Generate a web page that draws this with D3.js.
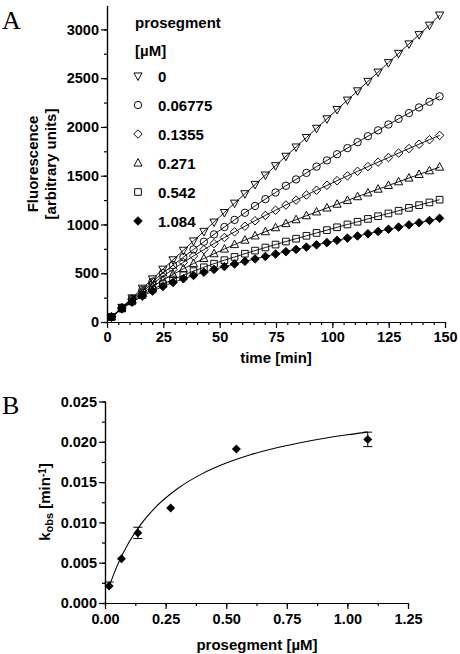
<!DOCTYPE html>
<html><head><meta charset="utf-8">
<script src="https://cdnjs.cloudflare.com/ajax/libs/d3/7.8.5/d3.min.js"></script>
<style>
body{margin:0;background:#fff;}
svg text{font-family:"Liberation Sans",Arial,Helvetica,sans-serif;font-weight:bold;fill:#000;}
</style></head>
<body><svg id="c" width="460" height="654"></svg>
<script>
// ---------- Panel A data ----------
const times = [2.0,6.6,11.1,15.7,20.2,24.8,29.3,33.9,38.4,43.0,47.5,52.1,56.6,61.2,65.7,70.3,74.8,79.4,83.9,88.5,93.0,97.6,102.1,106.7,111.2,115.8,120.3,124.9,129.4,134.0,138.5,143.1,147.6];
const concLabels = ["0","0.06775","0.1355","0.271","0.542","1.084"];
const markerTypes = ["triDown","circle","diamond","triUp","square","diamondFilled"];
const s0 = [52,150,247,346,442,541,637,735,831,929,1024,1122,1218,1315,1410,1507,1602,1699,1794,1891,1986,2083,2178,2275,2370,2467,2562,2659,2754,2851,2946,3043,3147];
const s1 = [52,147,238,328,414,501,583,665,744,823,898,974,1047,1120,1190,1260,1328,1397,1462,1529,1593,1657,1720,1783,1844,1905,1965,2025,2083,2142,2200,2258,2314];
const s2 = [52,145,231,314,392,469,540,611,677,742,804,866,924,982,1038,1093,1146,1199,1250,1302,1351,1401,1449,1498,1545,1593,1639,1686,1732,1778,1823,1869,1913];
const s3 = [52,141,221,296,364,429,488,546,599,651,700,748,794,839,883,926,967,1009,1049,1090,1129,1169,1208,1247,1285,1324,1362,1400,1438,1476,1513,1551,1588];
const s4 = [51,137,210,276,334,388,436,481,522,561,598,634,667,700,732,764,794,825,854,884,913,942,971,1000,1028,1057,1085,1113,1141,1170,1198,1226,1254];
const s5 = [51,134,203,264,317,364,405,443,477,510,539,568,595,622,647,672,697,721,744,768,791,814,837,860,882,905,928,951,973,996,1018,1041,1063];
const seriesA = [s0,s1,s2,s3,s4,s5];
const xTicksA = [0,25,50,75,100,125,150];
const yTicksA = [0,500,1000,1500,2000,2500,3000];

// ---------- Panel B data ----------
const concB = [0.017,0.068,0.1355,0.271,0.542,1.084];
const kobs = [0.0021,0.0055,0.0087,0.0118,0.0191,0.0203];
const errUp = [0.0005,0,0.0007,0,0,0.0009];
const errDown = [0,0,0.0007,0,0,0.0009];
const fitX = [0.017,0.05,0.1,0.15,0.2,0.3,0.4,0.5,0.6,0.7,0.8,0.9,1.0,1.084];
const fitY = [0.00206,0.00461,0.00759,0.00985,0.01162,0.01421,0.01602,0.01736,0.01839,0.0192,0.01986,0.02041,0.02087,0.0212];
const xTicksB = [0,0.25,0.5,0.75,1.0,1.25];
const yTicksB = [0,0.005,0.01,0.015,0.02,0.025];

const svg = d3.select("#c");

function markerPath(type, r){
  const p = d3.path();
  if(type==="circle"){ p.arc(0,0,r,0,2*Math.PI); p.closePath(); }
  else if(type==="square"){ p.rect(-r*0.9,-r*0.9,r*1.8,r*1.8); }
  else if(type==="diamond"||type==="diamondFilled"){ const d=r*1.15; p.moveTo(0,-d);p.lineTo(d,0);p.lineTo(0,d);p.lineTo(-d,0);p.closePath(); }
  else if(type==="triUp"){ const h=r*1.1; p.moveTo(0,-h*1.1);p.lineTo(h,h*0.75);p.lineTo(-h,h*0.75);p.closePath(); }
  else if(type==="triDown"){ const h=r*1.1; p.moveTo(0,h*1.1);p.lineTo(h,-h*0.75);p.lineTo(-h,-h*0.75);p.closePath(); }
  return p.toString();
}
function styleAxis(a, fs){
  a.selectAll("text").style("font-size",fs).style("font-family","Liberation Sans, Arial").style("font-weight","bold");
  a.selectAll("line,path").attr("stroke","#000").attr("stroke-width",1.2);
}

// ================= Panel A =================
const xA = d3.scaleLinear().domain([0,150]).range([107,445]);
const yA = d3.scaleLinear().domain([0,3240]).range([322,6]);

const gA = svg.append("g");
const axXA = gA.append("g").attr("transform","translate(0,322)")
  .call(d3.axisBottom(xA).tickValues(d3.range(0,151,5)).tickSize(3).tickFormat(""));
const axXA2 = gA.append("g").attr("transform","translate(0,322)")
  .call(d3.axisBottom(xA).tickValues(xTicksA).tickSize(6).tickPadding(4).tickFormat(d3.format("d")));
const axYA = gA.append("g").attr("transform","translate(107,0)")
  .call(d3.axisLeft(yA).tickValues(d3.range(0,3240,250)).tickSize(3).tickFormat(""));
const axYA2 = gA.append("g").attr("transform","translate(107,0)")
  .call(d3.axisLeft(yA).tickValues(yTicksA).tickSize(6).tickPadding(2).tickFormat(d3.format("d")));
[axXA,axXA2,axYA,axYA2].forEach(a=>styleAxis(a,"14.5px"));
axYA.select(".domain").attr("d","M0.5,"+yA.range()[1]+"V322");
axYA2.select(".domain").attr("d","M0.5,"+yA.range()[1]+"V322");
axXA.select(".domain").attr("d","M107,0.5H445");
axXA2.select(".domain").attr("d","M107,0.5H445");

const lineA = d3.line().x((d,i)=>xA(times[i])).y(d=>yA(d));
seriesA.forEach((s,k)=>{
  gA.append("path").attr("d",lineA(s)).attr("fill","none").attr("stroke","#000").attr("stroke-width",0.9);
  gA.selectAll(null).data(s).enter().append("path")
    .attr("transform",(d,i)=>`translate(${xA(times[i])},${yA(d)})`)
    .attr("d",markerPath(markerTypes[k],3.7))
    .attr("fill",markerTypes[k]==="diamondFilled"?"#000":"none")
    .attr("stroke","#000").attr("stroke-width",0.95);
});

// legend A
gA.append("text").attr("x",135).attr("y",28).style("font-size","15px").text("prosegment");
gA.append("text").attr("x",135).attr("y",56).style("font-size","15px").text("[µM]");
concLabels.forEach((c,k)=>{
  const y = 76 + k*29;
  gA.append("path").attr("transform",`translate(138,${y})`).attr("d",markerPath(markerTypes[k],3.7))
    .attr("fill",markerTypes[k]==="diamondFilled"?"#000":"none").attr("stroke","#000").attr("stroke-width",0.95);
  gA.append("text").attr("x",158).attr("y",y+5.5).style("font-size","15px").text(c);
});

gA.append("text").attr("transform","translate(38,164) rotate(-90)").attr("text-anchor","middle").style("font-size","15px").text("Fluorescence");
gA.append("text").attr("transform","translate(56,164) rotate(-90)").attr("text-anchor","middle").style("font-size","15px").text("[arbitrary units]");
gA.append("text").attr("x",276).attr("y",363).attr("text-anchor","middle").style("font-size","15px").text("time [min]");
gA.append("text").attr("x",2).attr("y",29).style("font-family","Liberation Serif, Times New Roman, serif").style("font-weight","normal").style("font-size","26px").text("A");

// ================= Panel B =================
const xB = d3.scaleLinear().domain([0,1.25]).range([105,408]);
const yB = d3.scaleLinear().domain([0,0.025]).range([603,401.5]);
const gB = svg.append("g");
const axXB = gB.append("g").attr("transform","translate(0,603)")
  .call(d3.axisBottom(xB).tickValues(d3.range(0,1.26,0.125)).tickSize(3).tickFormat(""));
const axXB2 = gB.append("g").attr("transform","translate(0,603)")
  .call(d3.axisBottom(xB).tickValues(xTicksB).tickSize(6).tickPadding(5).tickFormat(d3.format(".2f")));
const axYB = gB.append("g").attr("transform","translate(105,0)")
  .call(d3.axisLeft(yB).tickValues(d3.range(0,0.0251,0.0025)).tickSize(3).tickFormat(""));
const axYB2 = gB.append("g").attr("transform","translate(105,0)")
  .call(d3.axisLeft(yB).tickValues(yTicksB).tickSize(6).tickPadding(2).tickFormat(d3.format(".3f")));
[axXB,axXB2,axYB,axYB2].forEach(a=>styleAxis(a,"14.5px"));
axYB.select(".domain").attr("d","M0.5,401.5V603");
axYB2.select(".domain").attr("d","M0.5,401.5V603");
axXB.select(".domain").attr("d","M105,0.5H408");
axXB2.select(".domain").attr("d","M105,0.5H408");

const lineB = d3.line().x((d,i)=>xB(fitX[i])).y(d=>yB(d)).curve(d3.curveMonotoneX);
gB.append("path").attr("d",lineB(fitY)).attr("fill","none").attr("stroke","#000").attr("stroke-width",1.1);

concB.forEach((c,i)=>{
  const x = xB(c);
  if(errUp[i]>0||errDown[i]>0){
    const y1 = yB(kobs[i]+errUp[i]), y2 = yB(kobs[i]-errDown[i]);
    gB.append("line").attr("x1",x).attr("x2",x).attr("y1",y1).attr("y2",y2).attr("stroke","#000").attr("stroke-width",1);
    if(errUp[i]>0) gB.append("line").attr("x1",x-4.5).attr("x2",x+4.5).attr("y1",y1).attr("y2",y1).attr("stroke","#000").attr("stroke-width",1);
    if(errDown[i]>0) gB.append("line").attr("x1",x-4.5).attr("x2",x+4.5).attr("y1",y2).attr("y2",y2).attr("stroke","#000").attr("stroke-width",1);
  }
  gB.append("path").attr("transform",`translate(${x},${yB(kobs[i])})`).attr("d",markerPath("diamondFilled",3.9)).attr("fill","#000");
});

const tB = gB.append("text").attr("transform","translate(50,502) rotate(-90)").attr("text-anchor","middle").style("font-size","15px");
tB.append("tspan").text("k");
tB.append("tspan").attr("baseline-shift","-25%").style("font-size","11px").text("obs");
tB.append("tspan").text(" [min");
tB.append("tspan").attr("baseline-shift","45%").style("font-size","10px").text("-1");
tB.append("tspan").text("]");
gB.append("text").attr("x",257).attr("y",650).attr("text-anchor","middle").style("font-size","15px").text("prosegment [µM]");
gB.append("text").attr("x",2).attr("y",414).style("font-family","Liberation Serif, Times New Roman, serif").style("font-weight","normal").style("font-size","26px").text("B");
</script></body></html>
